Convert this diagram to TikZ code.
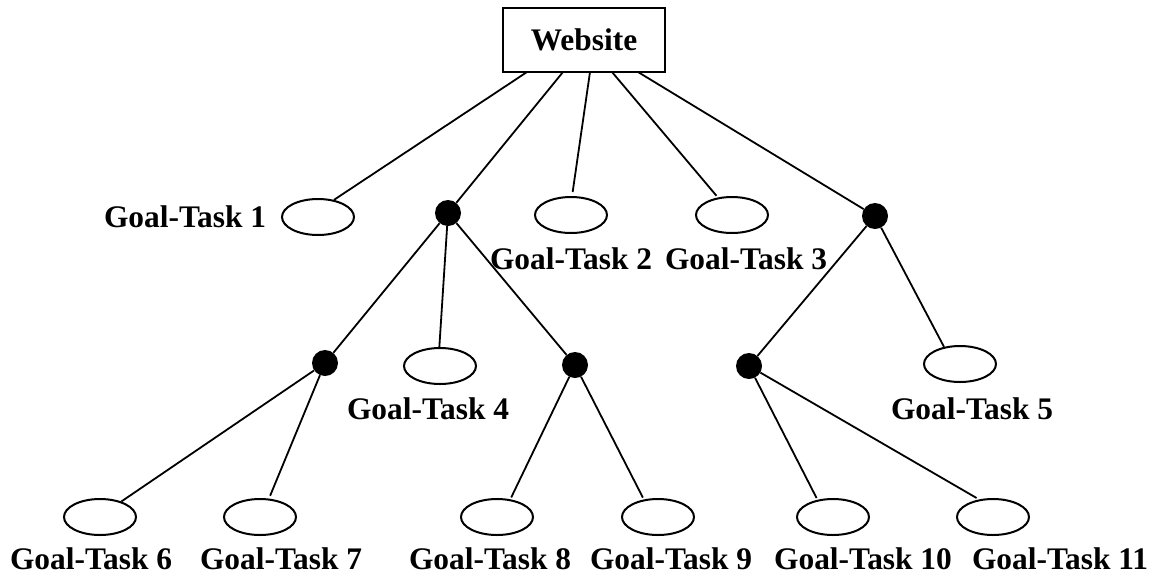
\documentclass[tikz,border=0pt]{standalone}
\usepackage{fontspec}
\setmainfont{Liberation Serif}
\usetikzlibrary{shapes.geometric,calc}
\begin{document}
\begin{tikzpicture}[x=1pt,y=-1pt,
  ell/.style={ellipse,draw,line width=2pt,minimum width=72pt,minimum height=36pt,inner sep=0pt},
  dot/.style={circle,fill=black,minimum size=26pt,inner sep=0pt},
  lbl/.style={font=\fontsize{31.4}{35}\selectfont\bfseries,inner sep=0pt},
  con/.style={line width=1.8pt}]
\useasboundingbox (0,0) rectangle (1163,582);
\node[draw,line width=1.5pt,minimum width=162pt,minimum height=64pt,inner sep=0pt,font=\fontsize{31.4}{35}\selectfont\bfseries] (web) at (584,40) {Website};
\coordinate (w1) at (527,72);
\coordinate (w2) at (563,72);
\coordinate (w3) at (590,72);
\coordinate (w4) at (612,72);
\coordinate (w5) at (638,72);
% level 1
\node[ell] (e1) at (318,217) {};
\node[dot] (d1) at (448,213) {};
\node[ell] (e2) at (571,215) {};
\node[ell] (e3) at (732,215) {};
\node[dot] (d2) at (875,216) {};
% level 2
\node[dot] (d3) at (325,363) {};
\node[ell] (e4) at (440,366) {};
\node[dot] (d4) at (575,365) {};
\node[dot] (d5) at (749,366) {};
\node[ell] (e5) at (960,364) {};
% level 3
\node[ell] (e6) at (100,517) {};
\node[ell] (e7) at (260,517) {};
\node[ell] (e8) at (497,517) {};
\node[ell] (e9) at (658,517) {};
\node[ell] (e10) at (833,517) {};
\node[ell] (e11) at (993,517) {};
% labels
\node[lbl] (l1) at (185,217) {Goal-Task 1};
\node[lbl] (l2) at (571,259) {Goal-Task 2};
\node[lbl] (l3) at (746,259) {Goal-Task 3};
\node[lbl] (l4) at (428,409) {Goal-Task 4};
\node[lbl] (l5) at (972,409) {Goal-Task 5};
\node[lbl] (l6) at (91,559) {Goal-Task 6};
\node[lbl] (l7) at (281,559) {Goal-Task 7};
\node[lbl] (l8) at (490,559) {Goal-Task 8};
\node[lbl] (l9) at (671,559) {Goal-Task 9};
\node[lbl] (l10) at (863,559) {Goal-Task 10};
\node[lbl] (l11) at (1060,559) {Goal-Task 11};
% connectors
\draw[con] (w1) -- (e1.47);
\draw[con] (w2) -- (d1);
\draw[con] (w3) -- ([yshift=4pt]e2.85);
\draw[con] (w4) -- ([yshift=2pt]e3.132);
\draw[con] (w5) -- (d2);
\draw[con] (d1) -- (d3);
\draw[con] (d1) -- (e4.92);
\draw[con] (d1) -- (d4);
\draw[con] (d2) -- (d5);
\draw[con] (d2) -- (e5.133);
\draw[con] (d3) -- (e6.36);
\draw[con] (d3) -- ([yshift=3pt]e7.61);
\draw[con] (d4) -- ([yshift=2pt]e8.51);
\draw[con] (d4) -- ([yshift=2pt]e9.131);
\draw[con] (d5) -- ([yshift=2pt]e10.134);
\draw[con] (d5) -- ([yshift=2pt]e11.134);
\end{tikzpicture}
\end{document}
